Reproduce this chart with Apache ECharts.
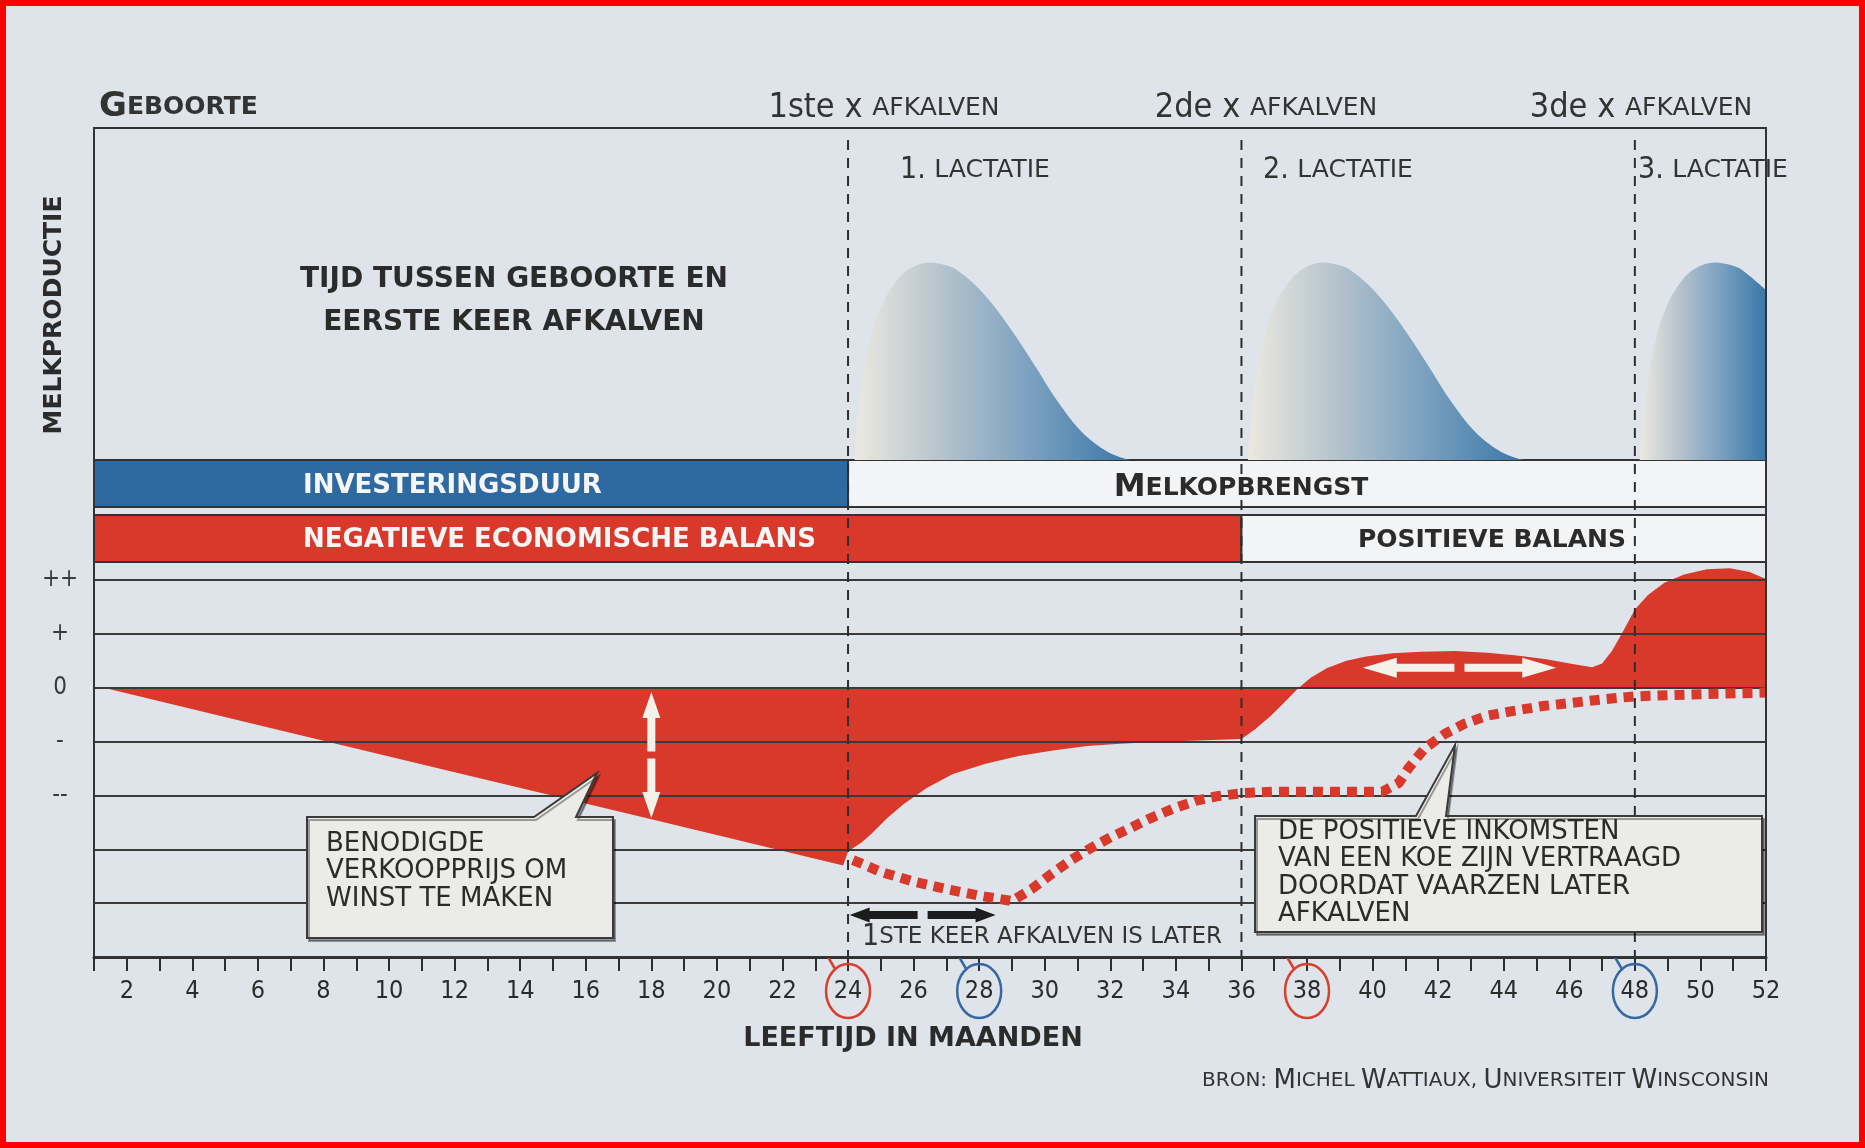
<!DOCTYPE html>
<html>
<head>
<meta charset="utf-8">
<title>Leeftijd eerste keer afkalven</title>
<script src="https://cdn.jsdelivr.net/npm/echarts@6/dist/echarts.min.js"></script>
<style>
  html, body { margin: 0; padding: 0; background: #dfe4eb; }
  #main { width: 1865px; height: 1148px; }
</style>
</head>
<body>
<div id="main"></div>
<script>
var FONT = "'DejaVu Sans Condensed','Liberation Sans Narrow','DejaVu Sans',sans-serif";
var WIDE = "'DejaVu Sans','Open Sans',sans-serif";
var INK = '#2b2b2b';
var RED = '#d9392a';
var BLUE = '#2f69a2';

// x-as: leeftijd in maanden
var monthMin = 1, monthMax = 52;
var calvingMonths = [24, 36, 48];          // 1ste, 2de, 3de x afkalven
var plannedCalving = [24, 38];             // rode cirkels
var laterCalving = [28, 48];               // blauwe cirkels

// y-as economische balans
var balanceLevels = [2, 1, 0, -1, -2];
var balanceLabels = ['++', '+', '0', '-', '--'];

// melkproductie per lactatie (relatief, piek = 1)
var lactation1 = [[24.2, 0], [24.37, 0.32], [24.55, 0.5], [24.76, 0.66], [25.0, 0.77], [25.28, 0.86], [25.8, 0.96], [26.5, 1.0], [27.0, 0.985], [27.33, 0.96], [28.03, 0.86], [28.85, 0.69], [29.65, 0.49], [30.38, 0.3], [31.08, 0.15], [31.69, 0.065], [32.2, 0.02], [32.6, 0]];
var lactation2 = [[36.2, 0], [36.37, 0.32], [36.55, 0.5], [36.76, 0.66], [37.0, 0.77], [37.28, 0.86], [37.8, 0.96], [38.5, 1.0], [39.0, 0.985], [39.33, 0.96], [40.03, 0.86], [40.85, 0.69], [41.65, 0.49], [42.38, 0.3], [43.08, 0.15], [43.69, 0.065], [44.2, 0.02], [44.6, 0]];
var lactation3 = [[48.15, 0], [48.32, 0.32], [48.5, 0.5], [48.71, 0.66], [48.95, 0.77], [49.23, 0.86], [49.75, 0.96], [50.45, 1.0], [50.95, 0.985], [51.28, 0.96], [52.0, 0.86]];

// balken: [van, tot] in maanden
var investBands = [[1, 24], [24, 52]];
var investNames = ['INVESTERINGSDUUR', 'MELKOPBRENGST'];
var balanceBands = [[1, 36], [36, 52]];
var balanceNames = ['NEGATIEVE ECONOMISCHE BALANS', 'POSITIEVE BALANS'];

// economische balans (rode vlak)
var balanceCurve = [[1.3, 0], [6, -0.69], [12, -1.57], [18, -2.44], [23.85, -3.3], [24.0, -3.04], [24.4, -2.88], [24.7, -2.72], [25.2, -2.42], [25.7, -2.16], [26.4, -1.86], [27.2, -1.6], [28.2, -1.41], [29.2, -1.27], [30.3, -1.16], [31.3, -1.08], [32.3, -1.04], [33.3, -1.01], [34.7, -0.98], [36.0, -0.95], [36.4, -0.78], [36.9, -0.52], [37.3, -0.28], [37.7, -0.03], [38.1, 0.18], [38.6, 0.36], [39.2, 0.5], [39.8, 0.58], [40.6, 0.64], [41.5, 0.67], [42.5, 0.68], [43.5, 0.65], [44.4, 0.6], [45.3, 0.53], [46.1, 0.44], [46.7, 0.38], [47.0, 0.45], [47.3, 0.68], [47.6, 1.0], [48.0, 1.45], [48.4, 1.72], [48.9, 1.95], [49.5, 2.1], [50.2, 2.2], [50.9, 2.22], [51.5, 2.15], [52.0, 2.02]];

// balans bij later afkalven (stippellijn)
var delayedCurve = [[24.15, -3.2], [25.0, -3.42], [26.0, -3.6], [27.0, -3.74], [28.0, -3.86], [29.0, -3.96], [29.6, -3.74], [30.2, -3.46], [30.8, -3.2], [31.4, -2.98], [32.0, -2.78], [32.6, -2.61], [33.2, -2.43], [33.9, -2.25], [34.6, -2.1], [35.3, -2.01], [36.0, -1.96], [37.0, -1.93], [38.0, -1.93], [39.0, -1.93], [40.3, -1.93], [40.8, -1.77], [41.1, -1.49], [41.6, -1.12], [42.2, -0.86], [42.8, -0.67], [43.5, -0.52], [44.3, -0.43], [45.2, -0.34], [46.1, -0.28], [47.1, -0.21], [48.0, -0.16], [50.0, -0.12], [52.0, -0.09]];

// pijlen [begin, eind] in (maand, balans)
var spreadArrow = [[18, -0.08], [18, -2.42]];
var gainArrow = [[39.7, 0.37], [45.6, 0.37]];
var laterArrow = [[24.05, -4.22], [28.5, -4.22]];

var chart = echarts.init(document.getElementById('main'));

function lactGradient() {
  return new echarts.graphic.LinearGradient(0, 0, 1, 0, [
    {offset: 0, color: '#ece9e0'},
    {offset: 0.3, color: '#b8c5cd'},
    {offset: 0.62, color: '#7ea3c1'},
    {offset: 1, color: '#3a77a8'}
  ]);
}

function lactSeries(data) {
  return {
    type: 'line', xAxisIndex: 0, yAxisIndex: 0, data: data,
    smooth: 0.35, symbol: 'none', lineStyle: {width: 0},
    areaStyle: {color: lactGradient(), opacity: 1}, silent: true
  };
}

function bandSeries(bands, colors, top, bottom) {
  return {
    type: 'custom', xAxisIndex: 1, yAxisIndex: 1, data: bands, silent: true,
    renderItem: function (params, api) {
      var s = api.coord([api.value(0), top]);
      var e = api.coord([api.value(1), bottom]);
      return {
        type: 'rect',
        shape: {x: s[0], y: s[1], width: e[0] - s[0], height: e[1] - s[1]},
        style: {fill: colors[params.dataIndex], stroke: '#333', lineWidth: 2}
      };
    }
  };
}

function ringSeries(months, color) {
  return {
    type: 'custom', xAxisIndex: 2, yAxisIndex: 2, z: 6, silent: true,
    data: months.map(function (m) { return [m, -5]; }),
    renderItem: function (params, api) {
      var p = api.coord([api.value(0), api.value(1)]);
      var cx = p[0], cy = p[1] + 34;
      return {
        type: 'group',
        children: [
          {type: 'ellipse', shape: {cx: cx, cy: cy, rx: 22, ry: 27},
            style: {fill: 'none', stroke: color, lineWidth: 2.5}},
          {type: 'line', shape: {x1: cx - 13, y1: cy - 22, x2: cx - 20, y2: cy - 34},
            style: {stroke: color, lineWidth: 2.5}}
        ]
      };
    }
  };
}

// stippellijnen bij afkalven, van bovenkant kader tot x-as
var calvingLines = {
  type: 'custom', xAxisIndex: 2, yAxisIndex: 2, z: 5, silent: true,
  data: calvingMonths.map(function (m) { return [m, -5]; }),
  renderItem: function (params, api) {
    var p = api.coord([api.value(0), api.value(1)]);
    return {
      type: 'line', shape: {x1: p[0], y1: 140, x2: p[0], y2: p[1]},
      style: {stroke: '#2e2e2e', lineWidth: 2, lineDash: [10, 8]}
    };
  }
};

var option = {
  backgroundColor: '#dfe4eb',
  animation: false,
  grid: [
    {left: 94, right: 99, top: 128, height: 332},
    {left: 94, right: 99, top: 460, height: 102},
    {left: 94, right: 99, top: 580, height: 377}
  ],
  xAxis: [
    {type: 'value', gridIndex: 0, min: monthMin, max: monthMax, show: false},
    {type: 'value', gridIndex: 1, min: monthMin, max: monthMax, show: false},
    {
      type: 'value', gridIndex: 2, min: monthMin, max: monthMax, interval: 1, z: 3,
      axisLine: {show: true, onZero: false, lineStyle: {color: '#2e2e2e', width: 3}},
      axisTick: {show: true, length: 14, lineStyle: {color: '#2e2e2e', width: 2}},
      axisLabel: {
        margin: 22, fontSize: 25, color: INK, fontFamily: FONT,
        formatter: function (v) { return v % 2 === 0 ? String(v) : ''; }
      },
      splitLine: {show: false}
    }
  ],
  yAxis: [
    {type: 'value', gridIndex: 0, min: 0, max: 1.68, show: false},
    {type: 'value', gridIndex: 1, min: 0, max: 1, show: false},
    {
      type: 'value', gridIndex: 2, min: -5, max: 2, interval: 1, z: 3,
      axisLine: {show: false}, axisTick: {show: false},
      axisLabel: {
        margin: 34, align: 'center', fontSize: 24, color: '#3a3a3a', fontFamily: FONT,
        formatter: function (v) {
          var i = balanceLevels.indexOf(v);
          return i >= 0 ? balanceLabels[i] : '';
        }
      },
      splitLine: {show: true, lineStyle: {color: '#3a3a3a', width: 2}}
    }
  ],
  series: [
    lactSeries(lactation1),
    lactSeries(lactation2),
    lactSeries(lactation3),
    bandSeries(investBands, [BLUE, '#f3f4f6'], 1, 0.54),
    bandSeries(balanceBands, [RED, '#f3f4f6'], 0.46, 0),
    {
      type: 'line', xAxisIndex: 2, yAxisIndex: 2, data: balanceCurve, z: 2,
      symbol: 'none', lineStyle: {width: 0}, clip: false, silent: true,
      areaStyle: {color: RED, opacity: 1}
    },
    {
      type: 'line', xAxisIndex: 2, yAxisIndex: 2, data: delayedCurve, z: 4,
      symbol: 'none', clip: false, silent: true,
      lineStyle: {color: RED, width: 10, type: [10, 7], cap: 'butt'}
    },
    calvingLines,
    ringSeries(plannedCalving, '#d8402c'),
    ringSeries(laterCalving, '#3569a3')
  ]
};
chart.setOption(option);

// ---- annotaties ----
function px(m, v) { return chart.convertToPixel({gridIndex: 2}, [m, v]); }

function arrowHalf(tip, base, shaftW, headW, headL) {
  var dx = base[0] - tip[0], dy = base[1] - tip[1];
  var len = Math.sqrt(dx * dx + dy * dy);
  var ux = dx / len, uy = dy / len, nx = -uy, ny = ux;
  var hb = [tip[0] + ux * headL, tip[1] + uy * headL];
  return [tip,
    [hb[0] + nx * headW / 2, hb[1] + ny * headW / 2],
    [hb[0] + nx * shaftW / 2, hb[1] + ny * shaftW / 2],
    [base[0] + nx * shaftW / 2, base[1] + ny * shaftW / 2],
    [base[0] - nx * shaftW / 2, base[1] - ny * shaftW / 2],
    [hb[0] - nx * shaftW / 2, hb[1] - ny * shaftW / 2],
    [hb[0] - nx * headW / 2, hb[1] - ny * headW / 2]];
}

function doubleArrow(ends, color, shaftW, headW, headL, gap) {
  var a = px(ends[0][0], ends[0][1]), b = px(ends[1][0], ends[1][1]);
  var dx = b[0] - a[0], dy = b[1] - a[1];
  var len = Math.sqrt(dx * dx + dy * dy);
  var ux = dx / len, uy = dy / len;
  var mx = (a[0] + b[0]) / 2, my = (a[1] + b[1]) / 2;
  var m1 = [mx - ux * gap / 2, my - uy * gap / 2], m2 = [mx + ux * gap / 2, my + uy * gap / 2];
  return [
    {type: 'polygon', z: 15, shape: {points: arrowHalf(a, m1, shaftW, headW, headL)}, style: {fill: color}},
    {type: 'polygon', z: 15, shape: {points: arrowHalf(b, m2, shaftW, headW, headL)}, style: {fill: color}}
  ];
}

function txt(x, y, text, st) {
  var s = {text: text, fill: INK, fontFamily: FONT, fontSize: 24, align: 'left', verticalAlign: 'middle'};
  for (var k in st) s[k] = st[k];
  return {type: 'text', x: x, y: y, z: 20, style: s};
}

function callout(box, tip, base) {
  var l = box[0], t = box[1], r = box[2], b = box[3];
  return {
    type: 'polygon', z: 16,
    shape: {points: [[l, t], [base[0], t], tip, [base[1], t], [r, t], [r, b], [l, b]]},
    style: {fill: '#ebebe8', stroke: '#3a3a3a', lineWidth: 2,
      shadowColor: 'rgba(0,0,0,0.35)', shadowOffsetX: 2, shadowOffsetY: 3}
  };
}

var g = [];
var frameL = px(monthMin, -5)[0], frameR = px(monthMax, -5)[0], frameB = px(monthMin, -5)[1];

// kader
g.push({type: 'rect', z: 9, shape: {x: frameL, y: 128, width: frameR - frameL, height: frameB - 128},
  style: {fill: 'none', stroke: '#333', lineWidth: 2}});

// pijlen
g = g.concat(doubleArrow(spreadArrow, '#f4f1ea', 8, 18, 26, 7));
g = g.concat(doubleArrow(gainArrow, '#f4f1ea', 8, 20, 34, 10));
g = g.concat(doubleArrow(laterArrow, '#1c1c1c', 8, 15, 20, 10));

// tekstballonnen
g.push(callout([307, 817, 613, 938], [597, 773], [534, 576]));
g.push(txt(326, 830, 'BENODIGDE\nVERKOOPPRIJS OM\nWINST TE MAKEN',
  {verticalAlign: 'top', lineHeight: 27.5, fontSize: 26, fontFamily: WIDE}));
g.push(callout([1255, 816, 1762, 932], [1455, 745], [1416, 1446]));
g.push(txt(1278, 818, 'DE POSITIEVE INKOMSTEN\nVAN EEN KOE ZIJN VERTRAAGD\nDOORDAT VAARZEN LATER\nAFKALVEN',
  {verticalAlign: 'top', lineHeight: 27.5, fontSize: 26, fontFamily: WIDE}));

// kopteksten
var smallCaps = {
  big: {fontSize: 34, fontFamily: FONT, fill: '#333'},
  sc: {fontSize: 25, fontFamily: WIDE, fill: '#333'}
};
g.push(txt(99, 107, '{big|G}{sc|EBOORTE}', {rich: {
  big: {fontSize: 34, fontFamily: WIDE, fontWeight: 'bold', fill: '#333'},
  sc: {fontSize: 25, fontFamily: WIDE, fontWeight: 'bold', fill: '#333'}
}}));
var calvingTitles = ['1ste x ', '2de x ', '3de x '];
var titleCenters = [884, 1266, 1641];
calvingTitles.forEach(function (t, i) {
  g.push(txt(titleCenters[i], 108, '{big|' + t + '}{sc|AFKALVEN}', {rich: smallCaps, align: 'center'}));
});
var lactStarts = [900, 1263, 1638];
lactStarts.forEach(function (x, i) {
  g.push(txt(x, 170, '{big|' + (i + 1) + '. }{sc|LACTATIE}', {rich: {
    big: {fontSize: 30, fontFamily: FONT, fill: '#333'},
    sc: {fontSize: 25, fontFamily: WIDE, fill: '#333'}
  }}));
});
g.push(txt(514, 280, 'TIJD TUSSEN GEBOORTE EN', {align: 'center', fontWeight: 'bold', fontSize: 28, fontFamily: WIDE}));
g.push(txt(514, 323, 'EERSTE KEER AFKALVEN', {align: 'center', fontWeight: 'bold', fontSize: 28, fontFamily: WIDE}));
g.push({type: 'text', x: 54, y: 315, rotation: Math.PI / 2, z: 20,
  style: {text: 'MELKPRODUCTIE', fill: INK, fontFamily: WIDE, fontSize: 25, fontWeight: 'bold',
    align: 'center', verticalAlign: 'middle'}});

// balkteksten
g.push(txt(303, 486, investNames[0], {fill: '#f6f6f6', fontWeight: 'bold', fontSize: 26, fontFamily: WIDE}));
g.push(txt(1241, 488, '{big|' + investNames[1].charAt(0) + '}{sc|' + investNames[1].slice(1) + '}',
  {align: 'center', rich: {
    big: {fontSize: 32, fontFamily: WIDE, fontWeight: 'bold', fill: INK},
    sc: {fontSize: 25, fontFamily: WIDE, fontWeight: 'bold', fill: INK}
  }}));
g.push(txt(303, 540, balanceNames[0], {fill: '#f6f6f6', fontWeight: 'bold', fontSize: 26, fontFamily: WIDE}));
g.push(txt(1492, 540, balanceNames[1], {align: 'center', fontWeight: 'bold', fontSize: 25, fontFamily: WIDE}));

// as-teksten
g.push(txt(862, 937, '{big|1}{sc|STE KEER AFKALVEN IS LATER}', {rich: {
  big: {fontSize: 30, fontFamily: FONT, fill: '#333'},
  sc: {fontSize: 23, fontFamily: WIDE, fill: '#333'}
}}));
g.push(txt(913, 1039, 'LEEFTIJD IN MAANDEN', {align: 'center', fontWeight: 'bold', fontSize: 27, fontFamily: WIDE}));
g.push(txt(1769, 1081, '{sc|BRON: }{big|M}{sc|ICHEL }{big|W}{sc|ATTIAUX, }{big|U}{sc|NIVERSITEIT }{big|W}{sc|INSCONSIN}',
  {align: 'right', rich: {
    big: {fontSize: 26, fontFamily: WIDE, fill: '#333'},
    sc: {fontSize: 20, fontFamily: WIDE, fill: '#333'}
  }}));

// rode rand van de foto
g.push({type: 'rect', z: 30, shape: {x: 3, y: 3, width: 1859, height: 1142},
  style: {fill: 'none', stroke: '#ff0000', lineWidth: 6}});

chart.setOption({graphic: g});
</script>
</body>
</html>
